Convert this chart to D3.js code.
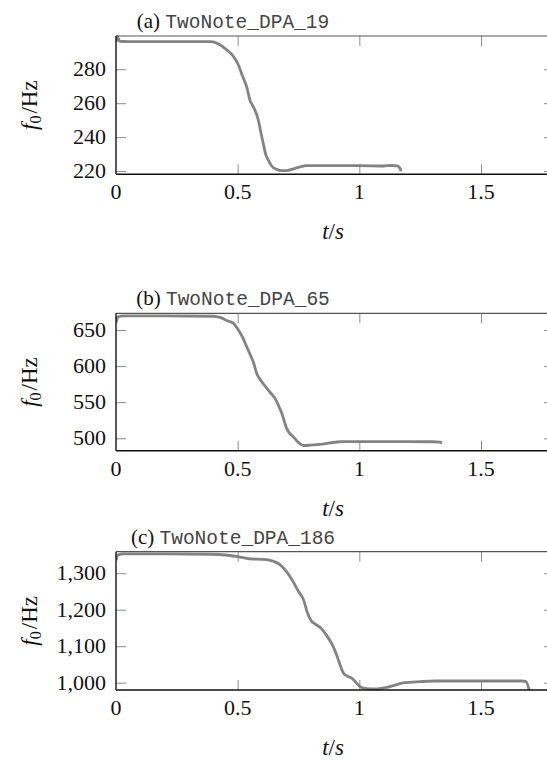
<!DOCTYPE html>
<html><head><meta charset="utf-8">
<script src="https://cdn.jsdelivr.net/npm/d3@7"></script>
<style>body{margin:0;background:#fff}svg{display:block}
.sf{font-family:"Liberation Serif","Times New Roman",Times,serif}
.mf{font-family:"Liberation Mono","Courier New",Courier,"DejaVu Sans Mono",monospace}
</style>
</head><body>
<svg id="c" width="547" height="760"></svg>
<script>
// ---- data ----
const xTicks = [0, 0.5, 1, 1.5];
const titlesPrefix = ["(a)", "(b)", "(c)"];
const titlesName = ["TwoNote_DPA_19", "TwoNote_DPA_65", "TwoNote_DPA_186"];

const tA = [0,0.005,0.015,0.05,0.2,0.39,0.42,0.455,0.48,0.503,0.52,0.537,0.55,0.564,0.585,0.595,0.605,0.615,0.626,0.64,0.66,0.68,0.70,0.73,0.756,0.786,0.9,1.0,1.1,1.13,1.155,1.165,1.172];
const fA = [296,299.5,296.5,296.3,296.3,296.3,295,291.4,288,282.5,276,269.7,262,258,250,243,236.3,230,226.5,223,221,220.3,220.3,221.3,222.5,223.2,223.2,223.2,223,223.3,223,222,220];
const yTicksA = [220,240,260,280];

const tB = [0,0.008,0.03,0.2,0.4,0.43,0.46,0.482,0.503,0.52,0.537,0.55,0.565,0.578,0.6,0.619,0.64,0.653,0.667,0.681,0.701,0.715,0.728,0.75,0.77,0.8,0.85,0.9,0.93,1.0,1.2,1.3,1.33,1.34];
const fB = [660,668,669.4,669.4,669,667,662.5,659.4,650,640,627,617,605,590,578,569.5,561,555.6,546,534.9,514,506,502.2,494,490,490.5,492,494.5,495.5,495.5,495.5,495.2,494.8,493.5];
const yTicksB = [500,550,600,650];

const tC = [0,0.008,0.03,0.2,0.386,0.45,0.5,0.557,0.6,0.629,0.65,0.671,0.7,0.728,0.75,0.771,0.785,0.8,0.82,0.842,0.865,0.885,0.907,0.92,0.935,0.95,0.97,0.99,1.007,1.03,1.059,1.09,1.113,1.15,1.185,1.25,1.314,1.5,1.67,1.685,1.698];
const fC = [1336,1350,1353,1353,1352,1350,1345.5,1339,1338,1336,1332,1325,1305,1277,1250,1227,1195,1172,1160,1150,1130,1109,1076,1050,1026,1018,1012,998,987.4,984,983,984.5,987,994,1000,1003,1004.7,1004.7,1004.7,1003,980];
const yTicksC = [1000,1100,1200,1300];

const panels = [
  {t: tA, f: fA, yTicks: yTicksA, yDom: [218.1, 299.6], top: 36, bottom: 174.3, fmt: d3.format("d")},
  {t: tB, f: fB, yTicks: yTicksB, yDom: [482.8, 673.1], top: 313.3, bottom: 450.7, fmt: d3.format("d")},
  {t: tC, f: fC, yTicks: yTicksC, yDom: [980, 1359], top: 551.7, bottom: 690, fmt: d3.format(",")}
];

const svg = d3.select("#c");
const left = 116, right = 554;
const tickCol = "#8c8c8c";

panels.forEach((p, i) => {
  const x = d3.scaleLinear().domain([0, 1.8]).range([left, right]);
  const y = d3.scaleLinear().domain(p.yDom).range([p.bottom, p.top]);
  const g = svg.append("g");
  const clipId = "clip" + i;
  g.append("clipPath").attr("id", clipId).append("rect")
    .attr("x", left).attr("y", p.top - 1).attr("width", right - left).attr("height", p.bottom - p.top + 2);

  const tickLen = 10;
  const gb = g.append("g").attr("transform", `translate(0,${p.bottom})`)
    .call(d3.axisTop(x).tickValues(xTicks).tickSize(tickLen).tickFormat(""));
  const gt = g.append("g").attr("transform", `translate(0,${p.top})`)
    .call(d3.axisBottom(x).tickValues(xTicks).tickSize(tickLen).tickFormat(""));
  const gl = g.append("g").attr("transform", `translate(${left},0)`)
    .call(d3.axisRight(y).tickValues(p.yTicks).tickSize(tickLen).tickFormat(""));
  const gr = g.append("g").attr("transform", `translate(${right},0)`)
    .call(d3.axisLeft(y).tickValues(p.yTicks).tickSize(tickLen).tickFormat(""));
  [gb, gt, gl, gr].forEach(a => {
    a.select(".domain").remove();
    a.selectAll(".tick line").attr("stroke", tickCol).attr("stroke-width", 1);
  });
  gb.selectAll(".tick").filter(d => d === 0).remove();
  gt.selectAll(".tick").filter(d => d === 0).remove();

  // tick labels
  g.append("g").selectAll("text").data(xTicks).join("text")
    .attr("class", "sf")
    .attr("x", d => x(d)).attr("y", p.bottom + 25)
    .attr("text-anchor", "middle").attr("font-size", 22)
    .attr("fill", "#111").text(d => d3.format("")(d));
  g.append("g").selectAll("text").data(p.yTicks).join("text")
    .attr("class", "sf")
    .attr("x", left - 10).attr("y", d => y(d) + 7)
    .attr("text-anchor", "end").attr("font-size", 22)
    .attr("fill", "#111").text(d => p.fmt(d));

  // line
  const line = d3.line().x(d => x(d[0])).y(d => y(d[1])).curve(d3.curveMonotoneX);
  g.append("path").datum(p.t.map((tt, k) => [tt, p.f[k]]))
    .attr("clip-path", `url(#${clipId})`)
    .attr("fill", "none").attr("stroke", "#838383").attr("stroke-width", 2.8)
    .attr("stroke-linejoin", "round").attr("d", line);

  // frame
  g.append("line").attr("x1", left).attr("x2", right).attr("y1", p.top).attr("y2", p.top)
    .attr("stroke", "#555").attr("stroke-width", 1.2);
  g.append("line").attr("x1", right).attr("x2", right).attr("y1", p.top).attr("y2", p.bottom)
    .attr("stroke", "#555").attr("stroke-width", 1.2);
  g.append("line").attr("x1", left).attr("x2", right).attr("y1", p.bottom).attr("y2", p.bottom)
    .attr("stroke", "#111").attr("stroke-width", 1.4);
  g.append("line").attr("x1", left).attr("x2", left).attr("y1", p.top).attr("y2", p.bottom)
    .attr("stroke", "#111").attr("stroke-width", 1.4);

  // title
  const title = g.append("text").attr("x", 233).attr("y", p.top - 8)
    .attr("text-anchor", "middle").attr("fill", "#111");
  title.append("tspan").attr("class", "sf").attr("font-size", 21).text(titlesPrefix[i] + " ");
  title.append("tspan").attr("class", "mf").attr("font-size", 19.5).attr("fill", "#444").text(titlesName[i]);

  // y label f0/Hz
  const cy = (p.top + p.bottom) / 2;
  const yl = g.append("text").attr("class", "sf").attr("transform", `translate(37,${cy}) rotate(-90)`)
    .attr("text-anchor", "middle").attr("font-size", 23).attr("fill", "#111");
  yl.append("tspan").attr("font-style", "italic").text("f");
  yl.append("tspan").attr("font-size", 16).attr("dy", 4).text("0");
  yl.append("tspan").attr("dy", -4).attr("dx", 2).text("/Hz");

  // x label t/s
  const xl = g.append("text").attr("class", "sf").attr("x", (left + right) / 2 - 2).attr("y", p.bottom + 65)
    .attr("text-anchor", "middle").attr("font-size", 23).attr("fill", "#111");
  xl.append("tspan").attr("font-style", "italic").text("t");
  xl.append("tspan").text("/");
  xl.append("tspan").attr("font-style", "italic").text("s");
});
</script>
</body></html>
